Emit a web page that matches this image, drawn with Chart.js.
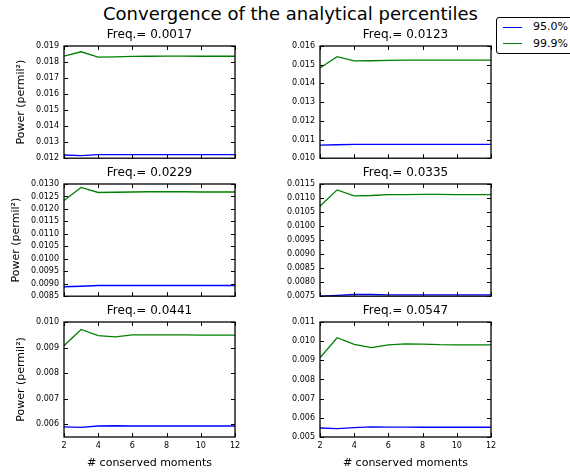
<!DOCTYPE html>
<html><head><meta charset="utf-8">
<script src="https://cdn.jsdelivr.net/npm/chart.js@4/dist/chart.umd.min.js"></script>
<style>
body{margin:0;width:570px;height:474px;overflow:hidden;background:#fff;position:relative;font-family:"DejaVu Sans",sans-serif;color:#000;}
canvas{position:absolute;}
#title{position:absolute;left:0;width:581px;top:4px;text-align:center;font-size:18px;line-height:20px;white-space:nowrap;}
#legend{position:absolute;left:496px;top:17px;width:90px;height:35px;border:1px solid #000;border-radius:3px;background:#fff;z-index:5;}
.li{position:absolute;left:0;height:16px;font-size:11px;line-height:16px;}
.li span.ln{position:absolute;left:6px;top:7.5px;width:19px;height:0;border-top:1.3px solid;}
.li span.tx{position:absolute;left:36px;top:0;white-space:nowrap;}
</style></head>
<body>
<div id="title">Convergence of the analytical percentiles</div>
<div id="legend"></div>
<script>
// ---- data ----
const moments = [2,3,4,5,6,7,8,9,10,11,12];
const seriesNames = ['95.0%','99.9%'];
const panelTitles = ['Freq.= 0.0017','Freq.= 0.0123','Freq.= 0.0229','Freq.= 0.0335','Freq.= 0.0441','Freq.= 0.0547'];

const p95_0017 = [0.01220,0.01216,0.01222,0.01222,0.01222,0.01222,0.01222,0.01222,0.01222,0.01222,0.01222];
const p999_0017 = [0.01837,0.01864,0.01831,0.01832,0.01835,0.01836,0.01837,0.01837,0.01836,0.01836,0.01836];
const p95_0123 = [0.01070,0.01072,0.01074,0.01074,0.01074,0.01074,0.01074,0.01074,0.01074,0.01074,0.01074];
const p999_0123 = [0.01482,0.01543,0.01520,0.01521,0.01523,0.01524,0.01525,0.01525,0.01524,0.01524,0.01524];
const p95_0229 = [0.00888,0.00890,0.00893,0.00893,0.00893,0.00893,0.00893,0.00893,0.00893,0.00893,0.00893];
const p999_0229 = [0.01234,0.01286,0.01266,0.01267,0.01268,0.01269,0.01269,0.01269,0.01268,0.01268,0.01268];
const p95_0335 = [0.00750,0.00753,0.00756,0.00756,0.00755,0.00755,0.00755,0.00755,0.00755,0.00755,0.00755];
const p999_0335 = [0.01071,0.01129,0.01108,0.01109,0.01112,0.01112,0.01113,0.01113,0.01112,0.01112,0.01112];
const p95_0441 = [0.00590,0.00588,0.00593,0.00594,0.00593,0.00593,0.00593,0.00593,0.00593,0.00593,0.00593];
const p999_0441 = [0.00907,0.00971,0.00947,0.00942,0.00950,0.00950,0.00950,0.00950,0.00949,0.00949,0.00949];
const p95_0547 = [0.00547,0.00544,0.00549,0.00553,0.00552,0.00551,0.00551,0.00551,0.00551,0.00551,0.00551];
const p999_0547 = [0.00913,0.01018,0.00983,0.00966,0.00981,0.00986,0.00985,0.00982,0.00981,0.00981,0.00981];

const yTicks_0017 = ['0.012','0.013','0.014','0.015','0.016','0.017','0.018','0.019'];
const yTicks_0123 = ['0.010','0.011','0.012','0.013','0.014','0.015','0.016'];
const yTicks_0229 = ['0.0085','0.0090','0.0095','0.0100','0.0105','0.0110','0.0115','0.0120','0.0125','0.0130'];
const yTicks_0335 = ['0.0075','0.0080','0.0085','0.0090','0.0095','0.0100','0.0105','0.0110','0.0115'];
const yTicks_0441 = ['0.006','0.007','0.008','0.009','0.010'];
const yTicks_0547 = ['0.005','0.006','0.007','0.008','0.009','0.010','0.011'];
const yMins = [0.012,0.010,0.0085,0.0075,0.0055,0.005];
const yMaxs = [0.019,0.016,0.0130,0.0115,0.010,0.011];
const xTicks = [2,4,6,8,10,12];

// ---- build ----
const panels = [
  [p95_0017,p999_0017,yTicks_0017],
  [p95_0123,p999_0123,yTicks_0123],
  [p95_0229,p999_0229,yTicks_0229],
  [p95_0335,p999_0335,yTicks_0335],
  [p95_0441,p999_0441,yTicks_0441],
  [p95_0547,p999_0547,yTicks_0547]
];
const colors = ['#0000ff','#008000'];
const FONT = 'DejaVu Sans';
Chart.defaults.color = '#000';
Chart.defaults.font.family = FONT;

const leg = document.getElementById('legend');
seriesNames.forEach((n,i)=>{
  const d=document.createElement('div'); d.className='li'; d.style.top=(i===0?1:17.5)+'px';
  d.innerHTML='<span class="ln" style="border-color:'+colors[i]+'"></span><span class="tx">'+n+'</span>';
  leg.appendChild(d);
});

const frame = {
  id:'frame',
  afterDatasetsDraw(chart){
    const {ctx, chartArea:a} = chart; const sx=chart.scales.x, sy=chart.scales.y;
    ctx.save(); ctx.strokeStyle='#000'; ctx.lineWidth=1; ctx.beginPath();
    sx.ticks.forEach(t=>{const p=Math.round(sx.getPixelForValue(t.value))+0.5;
      ctx.moveTo(p,a.bottom); ctx.lineTo(p,a.bottom-4); ctx.moveTo(p,a.top); ctx.lineTo(p,a.top+4);});
    sy.ticks.forEach(t=>{const p=Math.round(sy.getPixelForValue(t.value))+0.5;
      ctx.moveTo(a.left,p); ctx.lineTo(a.left+4,p); ctx.moveTo(a.right,p); ctx.lineTo(a.right-4,p);});
    ctx.stroke();
    ctx.lineWidth=1.3; ctx.strokeRect(a.left,a.top,a.right-a.left,a.bottom-a.top);
    ctx.restore();
  }
};

const plotTops=[46,184,322], plotH=115, plotW=171;
panels.forEach((pn,i)=>{
  const row=Math.floor(i/2), col=i%2;
  const bottomRow = row===2;
  const axW = col===0?64:70;
  const cv=document.createElement('canvas');
  const W = axW*2+plotW, L = col===0?0:250;
  const H = 28+plotH+(bottomRow?34:7);
  cv.width=W; cv.height=H; cv.style.left=L+'px'; cv.style.top=(plotTops[row]-28)+'px';
  cv.style.width=W+'px'; cv.style.height=H+'px';
  document.body.appendChild(cv);
  const labels = pn[2];
  new Chart(cv,{
    type:'line',
    data:{datasets:[0,1].map(s=>({
      label:seriesNames[s],
      data:moments.map((m,k)=>({x:m,y:pn[s][k]})),
      borderColor:colors[s], borderWidth:1.3, pointRadius:0, tension:0, fill:false
    }))},
    options:{
      responsive:false, animation:false, devicePixelRatio:1,
      layout:{padding:{top:9.6,left:0,right:0,bottom:bottomRow?0:7}},
      plugins:{
        legend:{display:false}, tooltip:{enabled:false},
        title:{display:true,text:panelTitles[i],color:'#000',font:{family:FONT,size:12,weight:'normal'},padding:{top:0,bottom:4}}
      },
      scales:{
        x:{type:'linear',min:2,max:12,
          afterBuildTicks:s=>{s.ticks=xTicks.map(v=>({value:v}));},
          grid:{display:false,drawTicks:false}, border:{display:false},
          ticks:{display:bottomRow,font:{size:8},color:'#000',padding:4,autoSkip:false,maxRotation:0},
          title:{display:bottomRow,text:'# conserved moments',color:'#000',font:{size:11},padding:{top:0,bottom:1.4}},
          afterFit:s=>{s.height=bottomRow?34:0;}
        },
        y:{type:'linear',min:yMins[i],max:yMaxs[i],
          afterBuildTicks:s=>{s.ticks=labels.map(v=>({value:Number(v)}));},
          grid:{display:false,drawTicks:false}, border:{display:false},
          ticks:{font:{size:8},color:'#000',padding:5,autoSkip:false,callback:(v,idx)=>labels[idx]},
          title:{display:col===0,text:'Power (permil²)',color:'#000',font:{size:11},padding:{top:row===1?9.2:14.8,bottom:0}},
          afterFit:s=>{s.width=axW;}
        },
        yr:{type:'linear',position:'right',display:true,min:yMins[i],max:yMaxs[i],
          grid:{display:false,drawTicks:false}, border:{display:false},
          ticks:{display:false}, title:{display:false},
          afterFit:s=>{s.width=axW;}
        }
      }
    },
    plugins:[frame]
  });
});
</script>
</body></html>
